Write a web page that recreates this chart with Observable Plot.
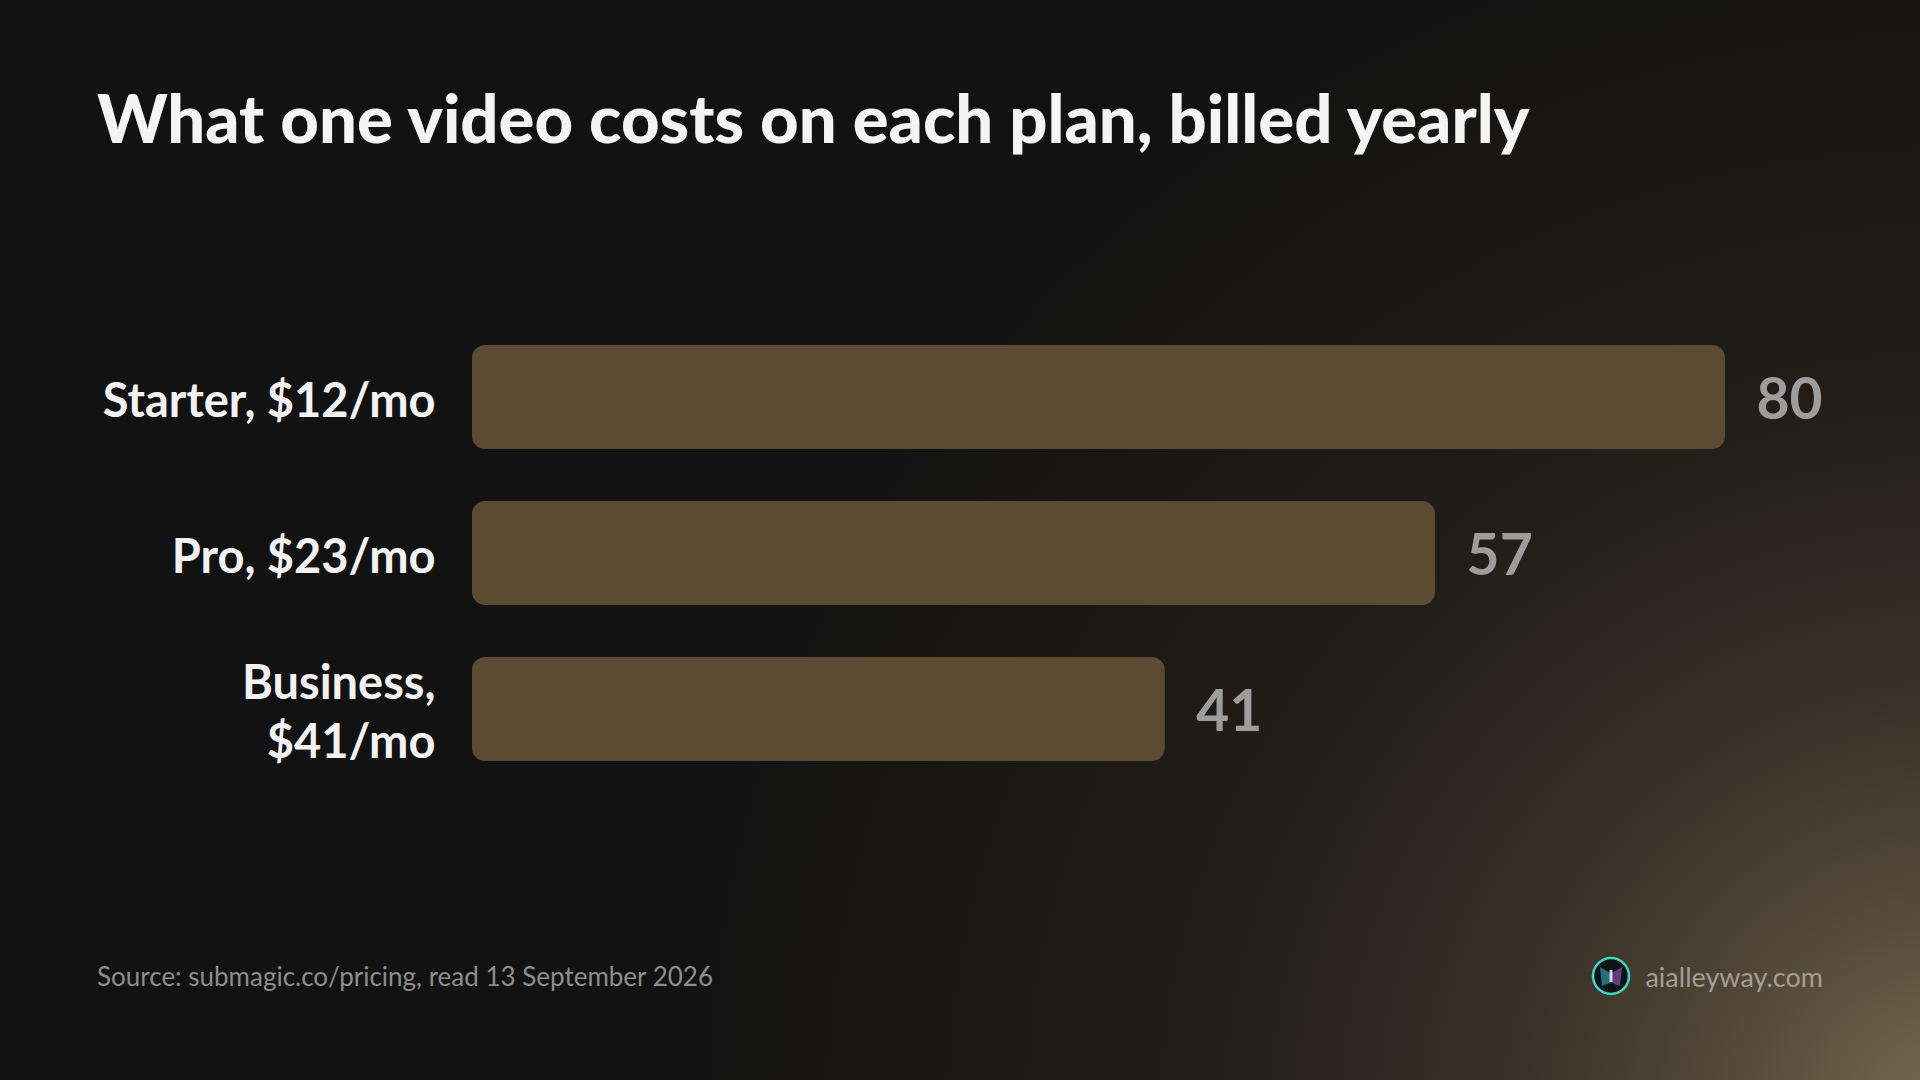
<!DOCTYPE html>
<html><head><meta charset="utf-8">
<script src="https://cdn.jsdelivr.net/npm/d3@7"></script>
<script src="https://cdn.jsdelivr.net/npm/@observablehq/plot@0.6"></script>
<style>
html,body{margin:0;padding:0;background:#121212;}
#page{position:relative;width:1920px;height:1080px;overflow:hidden;font-family:Lato,"Noto Sans",sans-serif;
  background:
    radial-gradient(ellipse 1300px 1250px at 1960px 1120px, rgba(124,108,84,1) 0%, rgba(92,79,61,0.95) 16%, rgba(62,54,43,0.88) 34%, rgba(38,34,29,0.75) 58%, rgba(18,18,18,0) 100%),
    #121212;}
#title{position:absolute;left:97px;top:84px;font-size:67px;line-height:67px;font-weight:900;color:#f4f4f4;white-space:nowrap;}
#chart{position:absolute;left:0;top:230px;}
#source{position:absolute;left:97px;top:963px;font-size:26px;line-height:26px;color:#8d8d8d;white-space:nowrap;}
#brand{position:absolute;right:97px;top:956px;display:flex;align-items:center;gap:14px;}
#brand span{font-size:27px;line-height:27px;color:#a39f98;}
</style></head>
<body><div id="page">
<div id="title">What one video costs on each plan, billed yearly</div>
<div id="chart"></div>
<div id="source">Source: submagic.co/pricing, read 13 September 2026</div>
<div id="brand">
<svg width="40" height="40" viewBox="0 0 40 40">
  <circle cx="20" cy="20" r="18" fill="#0d1418" stroke="#3fd3c0" stroke-width="2.5"/>
  <path d="M9 11 L19 17 L19 27 L11 30 Z" fill="#2a7f8a" opacity="0.85"/>
  <path d="M31 11 L21 17 L21 27 L29 30 Z" fill="#7a3f8f" opacity="0.85"/>
  <rect x="18.5" y="14" width="3" height="12" fill="#d8d8d8"/>
</svg>
<span>aialleyway.com</span>
</div>
</div>
<script>
const plans = ["Starter, $12/mo", "Pro, $23/mo", "Business,\n$41/mo"];
const costs = [80, 57, 41];
const data = plans.map((plan, i) => ({plan, cost: costs[i]}));

const chart = Plot.plot({
  width: 1920,
  height: 620,
  marginLeft: 472,
  marginRight: 195,
  marginTop: 63,
  marginBottom: 37,
  style: {background: "transparent", overflow: "visible", fontFamily: "Lato, 'Noto Sans', sans-serif"},
  x: {domain: [0, 74.16], clamp: true, axis: null},
  y: {domain: plans, padding: 1/3, axis: null},
  marks: [
    Plot.barX(data, {y: "plan", x: "cost", fill: "#5b4b33", rx: 13}),
    Plot.text(data, {y: "plan", x: "cost", text: d => String(d.cost), textAnchor: "start", dx: 31, dy: 3,
      fontSize: 57, fontWeight: 700, fill: "#9d9d9d"}),
    Plot.axisY({tickSize: 0, tickPadding: 37, fontSize: 47, fontWeight: 700, color: "#f2f2f2", lineHeight: 1.27, label: null})
  ]
});
document.getElementById("chart").appendChild(chart);
</script>
</body></html>
